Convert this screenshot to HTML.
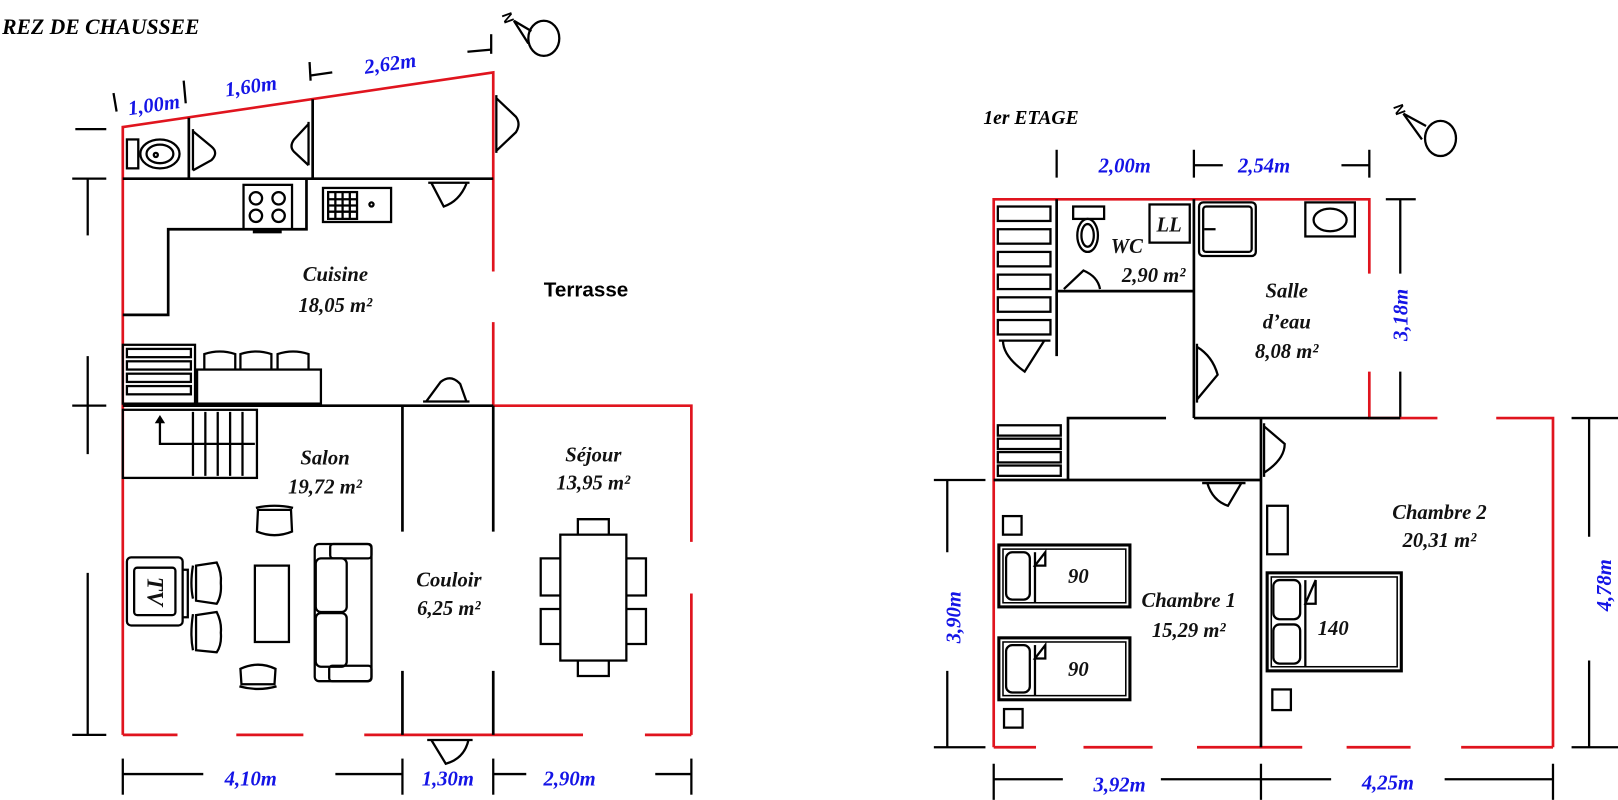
<!DOCTYPE html>
<html><head><meta charset="utf-8"><style>
html,body{margin:0;padding:0;background:#fff;}
svg{display:block}
.w{stroke:#000;stroke-width:2.6;fill:none}
.r{stroke:#e0141e;stroke-width:2.6;fill:none}
.t{stroke:#000;stroke-width:2.2;fill:none}
.lab{font-family:"Liberation Serif",serif;font-style:italic;font-weight:bold;font-size:20px;fill:#111;text-anchor:middle}
.dim{font-family:"Liberation Serif",serif;font-style:italic;font-weight:bold;font-size:20px;fill:#1414e6;text-anchor:middle}
</style></head><body>
<svg width="1618" height="800" viewBox="0 0 1568 775" xmlns="http://www.w3.org/2000/svg">
<rect width="1568" height="775" fill="#fff"/>
<!-- ================= REZ DE CHAUSSEE ================= -->
<text x="2" y="33" style="font-family:'Liberation Serif',serif;font-style:italic;font-weight:bold;font-size:21px">REZ DE CHAUSSEE</text>
<text x="486" y="14" transform="rotate(70 486 14)" style="font-family:'Liberation Sans',sans-serif;font-weight:bold;font-size:14px">N</text>
<path class="t" d="M498,20 L515,30 M498,20 L512,42"/>
<ellipse cx="527" cy="37" rx="15" ry="17" class="t" stroke-width="3.2"/>
<g class="t">
<line x1="110" y1="90" x2="113" y2="108"/><line x1="178" y1="78" x2="180" y2="100"/>
<line x1="300" y1="60" x2="301" y2="78"/><line x1="301" y1="73" x2="322" y2="70"/>
<line x1="476" y1="33" x2="476" y2="52"/><line x1="453" y1="50" x2="476" y2="48"/>
</g>
<text class="dim" x="150" y="108" transform="rotate(-8 150 108)">1,00m</text>
<text class="dim" x="244" y="90" transform="rotate(-8 244 90)">1,60m</text>
<text class="dim" x="379" y="68" transform="rotate(-8 379 68)">2,62m</text>
<g class="t">
<line x1="73" y1="125" x2="103" y2="125"/>
<line x1="70" y1="173" x2="103" y2="173"/><line x1="85" y1="173" x2="85" y2="228"/>
<line x1="85" y1="345" x2="85" y2="440"/><line x1="70" y1="393" x2="103" y2="393"/>
<line x1="85" y1="555" x2="85" y2="712"/><line x1="70" y1="712" x2="103" y2="712"/>
</g>
<g class="r">
<path d="M119,712 L119,123 L478,70 L478,263"/>
<path d="M478,312 L478,393 L670,393 L670,525"/>
<line x1="670" y1="575" x2="670" y2="712"/>
<line x1="119" y1="712" x2="172" y2="712"/>
<line x1="229" y1="712" x2="294" y2="712"/>
<line x1="353" y1="712" x2="565" y2="712"/>
<line x1="625" y1="712" x2="670" y2="712"/>
</g>
<g class="w">
<line x1="119" y1="173" x2="478" y2="173"/>
<line x1="183" y1="114" x2="183" y2="173"/>
<line x1="303" y1="96" x2="303" y2="173"/>
<path d="M297,173 L297,222 L163,222 L163,305 L119,305"/>
<line x1="119" y1="393" x2="478" y2="393"/>
<line x1="390" y1="393" x2="390" y2="515"/><line x1="390" y1="650" x2="390" y2="712"/>
<line x1="478" y1="393" x2="478" y2="515"/><line x1="478" y1="650" x2="478" y2="712"/>
</g>
<rect class="t" x="123" y="135" width="11" height="28"/>
<ellipse class="t" cx="155" cy="149" rx="19" ry="14"/><ellipse class="t" cx="155" cy="149" rx="13" ry="9"/>
<circle cx="151" cy="150" r="2" class="t" stroke-width="1"/>
<g class="t" stroke-width="2.6">
<path d="M187,125 L187,165 M187,127 L205,142 Q212,148 205,155 L187,165"/>
<path d="M299,118 L299,160 M299,120 L285,135 Q280,142 285,147 L299,160"/>
<path d="M481,92 L481,148 M481,95 L500,113 Q505,120 500,128 L481,146"/>
<path d="M415,177 L455,177 M418,177 L430,200 Q445,195 452,178"/>
<path d="M410,389 L455,389 M413,389 L427,370 Q437,362 446,372 L452,389"/>
<path d="M414,717 L458,717 M418,717 L432,740 Q450,735 454,717"/>
</g>
<rect class="t" x="236" y="179" width="47" height="43" stroke-width="3"/>
<rect x="245" y="222" width="28" height="4" fill="#000"/>
<g class="t"><circle cx="248" cy="192" r="6"/><circle cx="270" cy="192" r="6"/><circle cx="248" cy="209" r="6"/><circle cx="270" cy="209" r="6"/></g>
<rect class="t" x="313" y="182" width="66" height="33" stroke-width="3"/>
<rect class="t" x="318" y="186" width="28" height="26"/>
<path class="t" stroke-width="1.5" d="M325,186 V212 M332,186 V212 M339,186 V212 M318,193 H346 M318,199 H346 M318,205 H346"/>
<circle class="t" cx="360" cy="198" r="2"/>
<text class="lab" x="325" y="272">Cuisine</text>
<text class="lab" x="325" y="302">18,05 m²</text>
<text x="527" y="287" style="font-family:'Liberation Sans',sans-serif;font-weight:bold;font-size:20px">Terrasse</text>
<rect class="t" x="119" y="334" width="70" height="57" stroke-width="3"/>
<g class="t" stroke-width="1.8"><rect x="123" y="338" width="62" height="8"/><rect x="123" y="350" width="62" height="8"/><rect x="123" y="362" width="62" height="8"/><rect x="123" y="374" width="62" height="8"/></g>
<rect class="t" x="191" y="358" width="120" height="33"/>
<g class="t" stroke-width="2.6"><path d="M198,358 V343 Q213,338 228,343 V358"/><path d="M233,358 V343 Q248,338 263,343 V358"/><path d="M269,358 V343 Q284,338 299,343 V358"/></g>
<rect class="t" x="119" y="397" width="130" height="66" stroke-width="3"/>
<g class="t" stroke-width="1.8"><path d="M187,399 V461 M199,399 V461 M211,399 V461 M223,399 V461 M235,399 V461 M187,430 H247"/></g>
<path class="t" d="M187,430 H155 V408"/><path d="M150,410 L155,402 L160,410 Z"/>
<text class="lab" x="315" y="450">Salon</text>
<text class="lab" x="315" y="478">19,72 m²</text>
<rect class="t" x="123" y="540" width="54" height="66" rx="4"/>
<rect class="t" x="130" y="550" width="40" height="46" rx="3"/>
<text x="150" y="573" transform="rotate(90 150 573)" class="lab" style="font-size:22px" dy="7">TV</text>
<path class="t" d="M177,552 H182 V598 H177"/>
<g class="t" stroke-width="2.6">
<path d="M187,548 Q184,566 187,580 M190,548 L210,545 Q215,555 214,565 Q215,577 210,585 L190,582 Z"/>
<path d="M187,595 Q184,615 187,630 M190,596 L210,593 Q215,603 214,613 Q215,625 210,632 L190,630 Z"/>
<path d="M248,492 Q266,488 284,492 M250,494 L249,515 Q266,522 283,515 L282,494 Z"/>
<path d="M232,665 Q250,670 268,665 M234,663 L233,648 Q250,640 267,648 L266,663 Z"/>
</g>
<rect class="t" x="247" y="548" width="33" height="74" stroke-width="3"/>
<rect class="t" x="305" y="527" width="55" height="133" rx="4"/>
<rect class="t" x="320" y="527" width="40" height="14" rx="3"/><rect class="t" x="319" y="645" width="41" height="15" rx="3"/>
<rect class="t" x="306" y="541" width="30" height="52" rx="5"/><rect class="t" x="306" y="594" width="30" height="52" rx="5"/>
<text class="lab" x="435" y="568">Couloir</text>
<text class="lab" x="435" y="596">6,25 m²</text>
<text class="lab" x="575" y="447">Séjour</text>
<text class="lab" x="575" y="474">13,95 m²</text>
<rect class="t" x="543" y="518" width="64" height="122"/>
<g class="t">
<path d="M560,518 V503 H590 V518"/><path d="M560,640 V655 H590 V640"/>
<path d="M543,541 H524 V577 H543"/><path d="M543,590 H524 V624 H543"/>
<path d="M607,541 H626 V577 H607"/><path d="M607,590 H626 V624 H607"/>
</g>
<g class="t">
<line x1="119" y1="735" x2="119" y2="770"/><line x1="390" y1="735" x2="390" y2="770"/>
<line x1="478" y1="735" x2="478" y2="770"/><line x1="670" y1="735" x2="670" y2="770"/>
<line x1="119" y1="750" x2="197" y2="750"/><line x1="325" y1="750" x2="390" y2="750"/>
<line x1="478" y1="750" x2="510" y2="750"/><line x1="635" y1="750" x2="670" y2="750"/>
</g>
<text class="dim" x="243" y="761">4,10m</text>
<text class="dim" x="434" y="761">1,30m</text>
<text class="dim" x="552" y="761">2,90m</text>

<!-- ================= 1er ETAGE ================= -->
<text x="953" y="120" style="font-family:'Liberation Serif',serif;font-style:italic;font-weight:bold;font-size:19px">1er ETAGE</text>
<text x="1350" y="103" transform="rotate(70 1350 103)" style="font-family:'Liberation Sans',sans-serif;font-weight:bold;font-size:14px">N</text>
<path class="t" d="M1360,110 L1382,122 M1360,110 L1378,135"/>
<ellipse cx="1396" cy="134" rx="15" ry="17" class="t" stroke-width="3.2"/>
<g class="t">
<line x1="1024" y1="145" x2="1024" y2="172"/><line x1="1157" y1="145" x2="1157" y2="172"/><line x1="1327" y1="145" x2="1327" y2="172"/>
<line x1="1157" y1="160" x2="1185" y2="160"/><line x1="1300" y1="160" x2="1327" y2="160"/>
</g>
<text class="dim" x="1090" y="167">2,00m</text>
<text class="dim" x="1225" y="167">2,54m</text>
<g class="t">
<line x1="1343" y1="193" x2="1372" y2="193"/><line x1="1357" y1="193" x2="1357" y2="265"/><line x1="1357" y1="360" x2="1357" y2="405"/>
</g>
<text class="dim" x="1364" y="305" transform="rotate(-90 1364 305)">3,18m</text>
<g class="r">
<path d="M1327,265 L1327,193 L963,193 L963,724"/>
<path d="M1327,360 L1327,405 L1393,405"/>
<path d="M1450,405 L1505,405 L1505,724"/>
<line x1="963" y1="724" x2="1004" y2="724"/>
<line x1="1050" y1="724" x2="1117" y2="724"/>
<line x1="1160" y1="724" x2="1262" y2="724"/>
<line x1="1305" y1="724" x2="1367" y2="724"/>
<line x1="1416" y1="724" x2="1505" y2="724"/>
</g>
<g class="w">
<line x1="1024" y1="193" x2="1024" y2="345"/>
<line x1="1024" y1="282" x2="1157" y2="282"/>
<line x1="1157" y1="193" x2="1157" y2="405"/>
<line x1="1157" y1="405" x2="1327" y2="405"/>
<line x1="1327" y1="405" x2="1357" y2="405"/>
<path d="M1130,405 L1035,405 L1035,465"/>
<line x1="963" y1="465" x2="1222" y2="465"/>
<line x1="1222" y1="405" x2="1222" y2="724"/>
</g>
<g class="t" stroke-width="2">
<rect x="967" y="200" width="51" height="14"/><rect x="967" y="222" width="51" height="14"/><rect x="967" y="244" width="51" height="14"/>
<rect x="967" y="266" width="51" height="14"/><rect x="967" y="288" width="51" height="14"/><rect x="967" y="310" width="51" height="14"/>
<rect x="967" y="412" width="61" height="10"/><rect x="967" y="425" width="61" height="10"/><rect x="967" y="438" width="61" height="10"/><rect x="967" y="451" width="61" height="10"/>
</g>
<g class="t" stroke-width="2.6">
<path d="M968,330 L1018,330 M972,330 Q972,345 993,360 L1012,330"/>
<path d="M1028,282 L1068,282 M1031,280 L1050,262 Q1064,268 1066,280"/>
<path d="M1160,333 L1160,390 M1160,336 Q1175,345 1180,363 L1160,387"/>
<path d="M1165,468 L1207,468 M1170,468 Q1175,485 1190,490 L1203,468"/>
<path d="M1225,410 L1225,462 M1225,413 L1245,430 Q1245,445 1225,458"/>
</g>
<rect class="t" x="1040" y="200" width="30" height="12"/>
<ellipse class="t" cx="1054" cy="228" rx="10" ry="16"/><ellipse class="t" cx="1054" cy="228" rx="6" ry="11"/>
<rect class="t" x="1114" y="198" width="39" height="37"/>
<text class="lab" x="1133" y="224" style="font-size:20px">LL</text>
<text class="lab" x="1092" y="245">WC</text>
<text class="lab" x="1118" y="273">2,90 m²</text>
<rect class="t" x="1162" y="196" width="55" height="52" rx="4"/><rect class="t" x="1166" y="200" width="47" height="44" rx="3"/>
<path class="t" d="M1167,222 H1178"/>
<rect class="t" x="1265" y="196" width="48" height="33"/><ellipse class="t" cx="1289" cy="213" rx="16" ry="11"/>
<text class="lab" x="1247" y="288">Salle</text>
<text class="lab" x="1247" y="318">d’eau</text>
<text class="lab" x="1247" y="347">8,08 m²</text>
<g class="t">
<rect x="968" y="528" width="127" height="60" stroke-width="3"/><rect x="972" y="532" width="119" height="52" stroke-width="1.5"/>
<rect x="975" y="535" width="23" height="46" rx="6"/><line x1="1003" y1="535" x2="1003" y2="584"/><path d="M1003,548 L1013,535 V548 Z"/>
<rect x="968" y="618" width="127" height="60" stroke-width="3"/><rect x="972" y="622" width="119" height="52" stroke-width="1.5"/>
<rect x="975" y="625" width="23" height="46" rx="6"/><line x1="1003" y1="625" x2="1003" y2="674"/><path d="M1003,638 L1013,625 V638 Z"/>
<rect x="972" y="500" width="18" height="18"/><rect x="973" y="687" width="18" height="18"/>
</g>
<text class="lab" x="1045" y="565">90</text>
<text class="lab" x="1045" y="655">90</text>
<text class="lab" x="1152" y="588">Chambre 1</text>
<text class="lab" x="1152" y="617">15,29 m²</text>
<g class="t">
<rect x="1228" y="490" width="20" height="47"/>
<rect x="1228" y="555" width="130" height="95" stroke-width="3"/><rect x="1232" y="559" width="122" height="87" stroke-width="1.5"/>
<rect x="1234" y="562" width="26" height="38" rx="6"/><rect x="1234" y="605" width="26" height="38" rx="6"/>
<line x1="1265" y1="562" x2="1265" y2="646"/><path d="M1265,585 L1275,562 V585 Z"/>
<rect x="1233" y="668" width="18" height="20"/>
</g>
<text class="lab" x="1292" y="615">140</text>
<text class="lab" x="1395" y="503">Chambre 2</text>
<text class="lab" x="1395" y="530">20,31 m²</text>
<g class="t">
<line x1="905" y1="465" x2="955" y2="465"/><line x1="905" y1="724" x2="955" y2="724"/>
<line x1="918" y1="465" x2="918" y2="535"/><line x1="918" y1="650" x2="918" y2="724"/>
</g>
<text class="dim" x="931" y="598" transform="rotate(-90 931 598)">3,90m</text>
<g class="t">
<line x1="1523" y1="405" x2="1568" y2="405"/><line x1="1523" y1="724" x2="1568" y2="724"/>
<line x1="1540" y1="405" x2="1540" y2="520"/><line x1="1540" y1="640" x2="1540" y2="724"/>
</g>
<text class="dim" x="1561" y="567" transform="rotate(-90 1561 567)">4,78m</text>
<g class="t">
<line x1="963" y1="740" x2="963" y2="775"/><line x1="1222" y1="740" x2="1222" y2="775"/><line x1="1505" y1="740" x2="1505" y2="775"/>
<line x1="963" y1="755" x2="1030" y2="755"/><line x1="1125" y1="755" x2="1222" y2="755"/>
<line x1="1222" y1="755" x2="1290" y2="755"/><line x1="1400" y1="755" x2="1505" y2="755"/>
</g>
<text class="dim" x="1085" y="767">3,92m</text>
<text class="dim" x="1345" y="765">4,25m</text>
</svg>
</body></html>
